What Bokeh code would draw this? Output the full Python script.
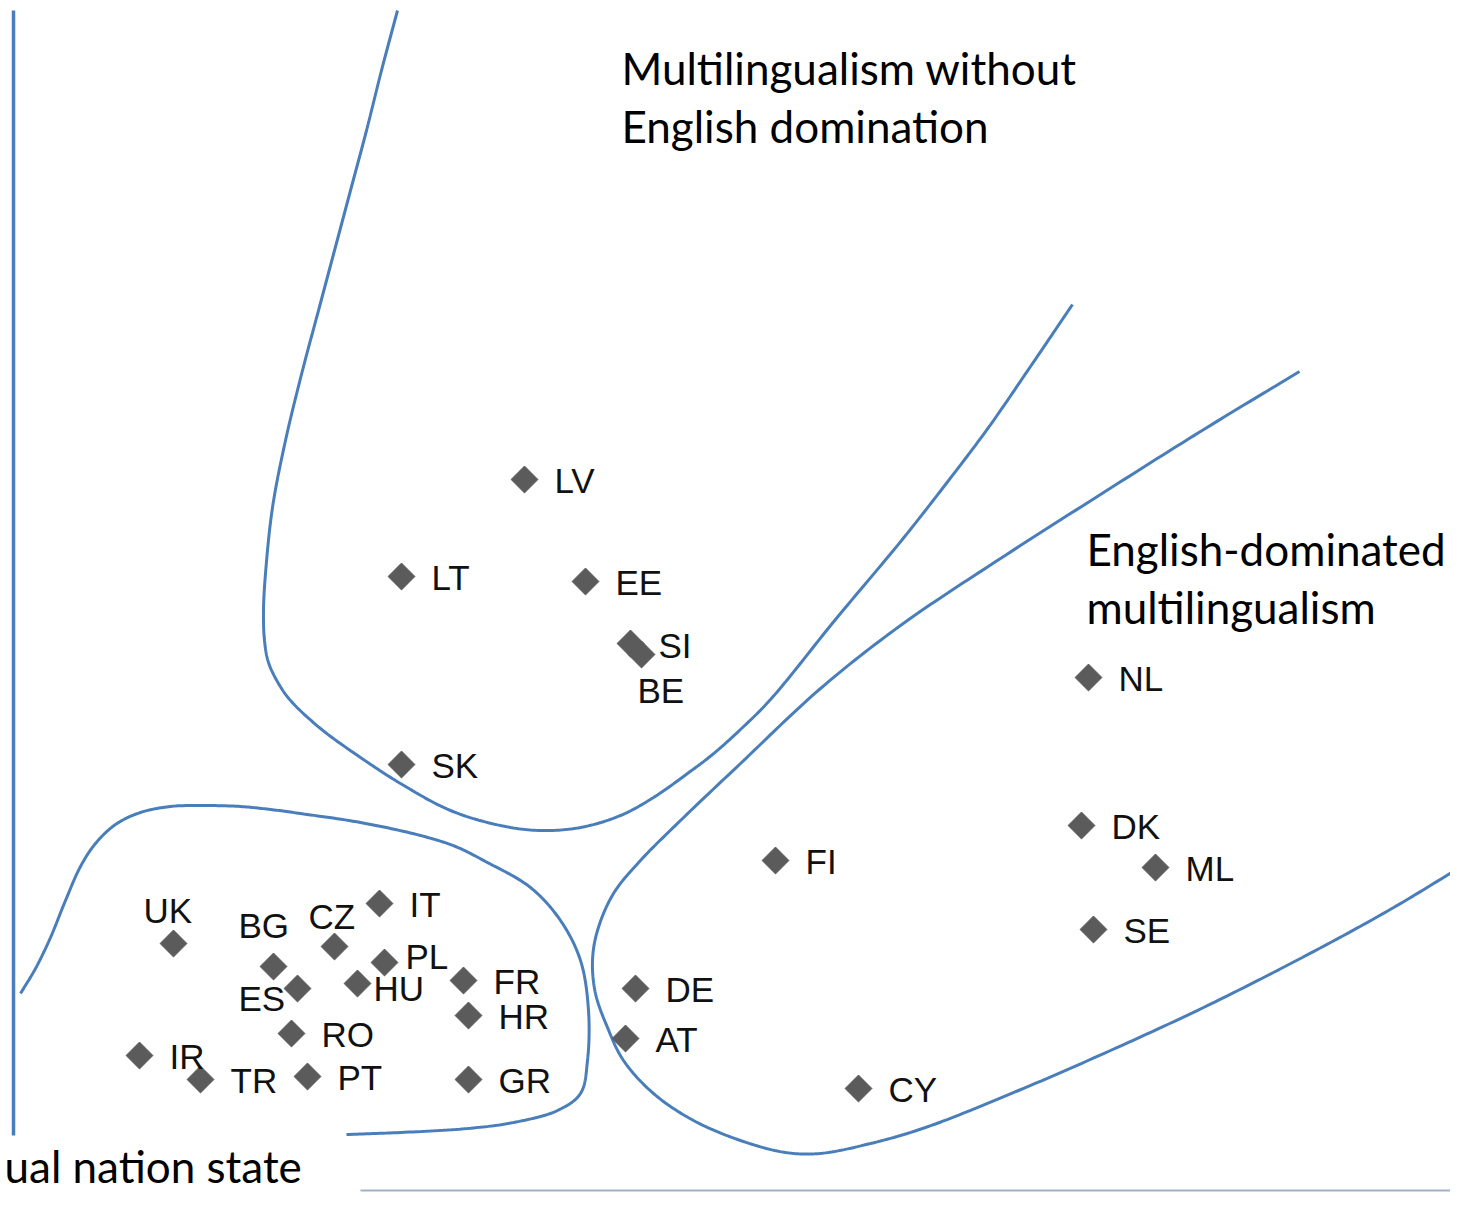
import numpy as np
from bokeh.plotting import figure
from bokeh.models import Range1d, ColumnDataSource
from bokeh.core.properties import value
from bokeh.embed import file_html
from bokeh.resources import INLINE

# --- data (reference plane units, y grows downward) ---
countries = ["LV", "LT", "EE", "SI", "BE", "SK", "NL", "DK", "ML", "SE", "FI",
             "DE", "AT", "CY", "UK", "BG", "CZ", "IT", "PL", "HU", "ES", "FR",
             "HR", "RO", "IR", "TR", "PT", "GR"]
x_vals = [524, 401, 585, 630, 641, 401, 1088, 1081, 1155, 1093, 775,
          635, 625, 858, 173, 273, 334, 379, 384, 357, 297, 463,
          468, 291, 139, 200, 307, 468]
y_vals = [479, 576, 581, 643, 654, 764, 677, 825, 867, 929, 860,
          988, 1038, 1088, 943, 966, 946, 903, 962, 983, 988, 980,
          1015, 1033, 1055, 1079, 1076, 1079]

# label placement relative to marker (default: to the right)
label_shift = {"SI": (28, 2), "BE": (-4, 36), "UK": (-30, -33), "BG": (-35, -41),
               "CZ": (-26, -30), "PL": (21, -6), "HU": (16, 5), "ES": (-59, 10)}

# region boundaries (hand-read path points)
curve_a_x = [397, 381, 366, 350, 334, 318, 302, 285, 272, 265, 263, 264, 268, 278, 290,
             320, 360, 400, 450, 500, 540, 580, 620, 653, 687, 712, 740, 770, 835, 901, 945, 988, 1030, 1072]
curve_a_y = [10, 70, 130, 190, 250, 310, 370, 440, 507, 573, 610, 640, 662, 683, 700,
             728, 757, 783, 810, 825, 830, 827, 815, 797, 773, 754, 729, 699, 619, 540, 484, 427, 366, 304]
curve_b_x = [1299, 1200, 1100, 1000, 900, 820, 740, 680, 640, 613, 597, 592, 595, 607, 623, 653,
             693, 740, 785, 819, 870, 925, 1018, 1110, 1203, 1296, 1388, 1466]
curve_b_y = [371, 431, 494, 558, 625, 688, 763, 820, 860, 893, 930, 960, 993, 1027, 1060, 1093,
             1120, 1140, 1152, 1153, 1143, 1127, 1090, 1050, 1007, 960, 910, 863]
curve_c_x = [20, 35, 50, 65, 80, 95, 115, 140, 170, 200, 240, 270, 300, 360, 420, 455, 485,
             530, 560, 580, 588, 587, 580, 557, 513, 467, 400, 346]
curve_c_y = [993, 968, 937, 900, 866, 843, 824, 812, 806, 805, 806, 809, 813, 822, 835, 846, 861,
             887, 920, 960, 1010, 1060, 1093, 1110, 1122, 1128, 1132, 1134]
axis_line_x = [13, 13]
axis_line_y = [10, 1135]
base_line_x = [360, 1466]
base_line_y = [1190, 1190]

region_titles = ["Multilingualism without", "English domination",
                 "English-dominated", "multilingualism", "ual nation state"]
title_x = [621, 621, 1086, 1086, 4]
title_y = [67, 125, 548, 606, 1165]


def centripetal(xs, ys, n=16, alpha=0.5):
    P = np.column_stack([xs, ys]).astype(float)
    P = np.vstack([2 * P[0] - P[1], P, 2 * P[-1] - P[-2]])
    outx, outy = [], []
    for i in range(1, len(P) - 2):
        p0, p1, p2, p3 = P[i - 1], P[i], P[i + 1], P[i + 2]
        t0 = 0.0
        t1 = t0 + np.linalg.norm(p1 - p0) ** alpha
        t2 = t1 + np.linalg.norm(p2 - p1) ** alpha
        t3 = t2 + np.linalg.norm(p3 - p2) ** alpha
        for t in np.linspace(t1, t2, n, endpoint=False):
            a1 = (t1 - t) / (t1 - t0) * p0 + (t - t0) / (t1 - t0) * p1
            a2 = (t2 - t) / (t2 - t1) * p1 + (t - t1) / (t2 - t1) * p2
            a3 = (t3 - t) / (t3 - t2) * p2 + (t - t2) / (t3 - t2) * p3
            b1 = (t2 - t) / (t2 - t0) * a1 + (t - t0) / (t2 - t0) * a2
            b2 = (t3 - t) / (t3 - t1) * a2 + (t - t1) / (t3 - t1) * a3
            c = (t2 - t) / (t2 - t1) * b1 + (t - t1) / (t2 - t1) * b2
            outx.append(c[0]); outy.append(c[1])
    outx.append(P[-2][0]); outy.append(P[-2][1])
    return outx, outy


p = figure(width=1450, height=1192, x_range=Range1d(0, 1450), y_range=Range1d(1192, 0),
           output_backend="svg", toolbar_location=None, min_border=0,
           x_axis_location=None, y_axis_location=None)
p.grid.visible = False
p.outline_line_color = None
p.background_fill_color = "white"

blue = "#4a7ebb"
p.line(axis_line_x, axis_line_y, line_color=blue, line_width=3.5)
for cx, cy in [(curve_a_x, curve_a_y), (curve_b_x, curve_b_y), (curve_c_x, curve_c_y)]:
    sx, sy = centripetal(cx, cy)
    p.line(sx, sy, line_color=blue, line_width=3)
p.line(base_line_x, base_line_y, line_color="#9fb2cc", line_width=2)

lx = [x + label_shift.get(c, (30, 1))[0] for c, x in zip(countries, x_vals)]
ly = [y + label_shift.get(c, (30, 1))[1] for c, y in zip(countries, y_vals)]
src = ColumnDataSource(dict(x=x_vals, y=y_vals, lx=lx, ly=ly, name=countries))

p.scatter("x", "y", source=src, marker="square", angle=np.pi / 4, size=19,
          fill_color="#5b5b5b", line_color="#5b5b5b", line_width=1)
p.text("lx", "ly", text="name", source=src, text_font=value("Liberation Sans"),
       text_font_size="35px", text_align="left", text_baseline="middle",
       text_color="#111111")

tsrc = ColumnDataSource(dict(x=title_x, y=title_y, t=region_titles))
p.text("x", "y", text="t", source=tsrc, text_font=value("Lato"), text_font_size="44px",
       text_align="left", text_baseline="middle", text_color="black")

open("out.html", "w").write(file_html(p, INLINE))
